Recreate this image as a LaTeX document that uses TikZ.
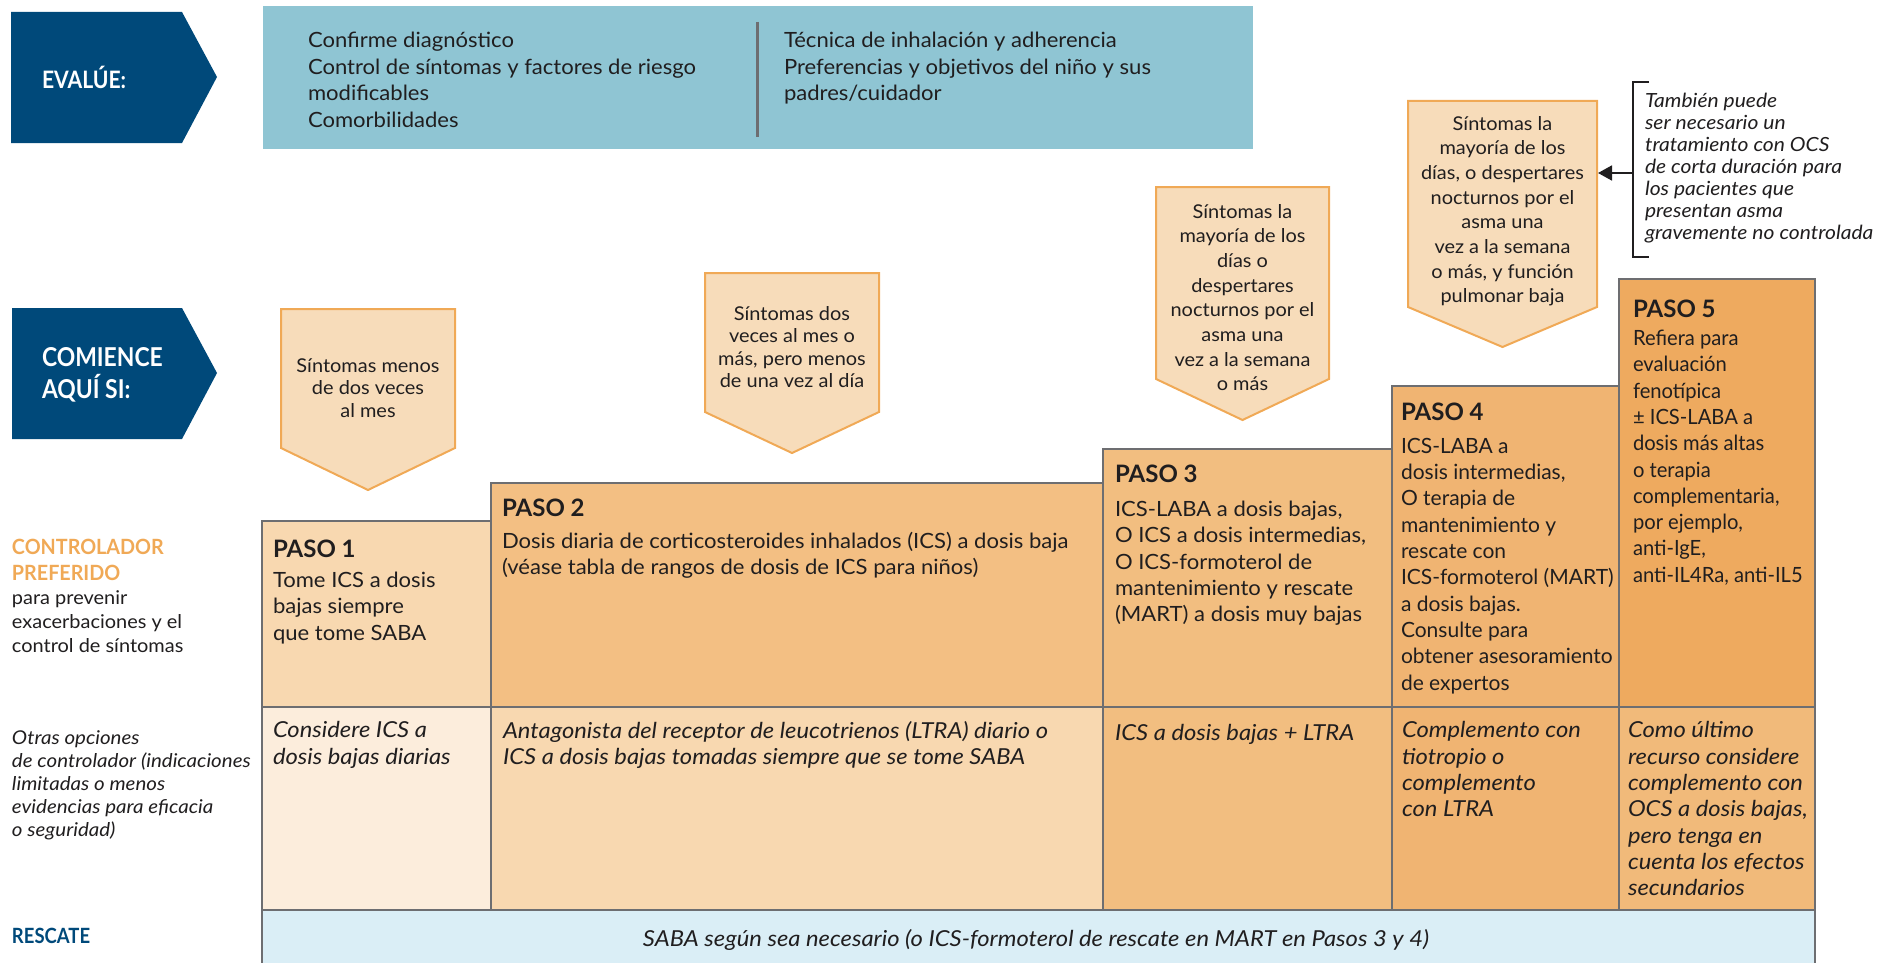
\documentclass[tikz,border=0pt]{standalone}
\usepackage{fontspec}
\setmainfont{Lato}[FakeStretch=1.05]
\newfontfamily\itfam{Lato}[FakeStretch=1.08]
\newfontfamily\plainfam{Lato}
\newfontfamily\narrowfam{Lato}[FakeStretch=0.96]
\newfontfamily\labelfam{Lato}[FakeStretch=0.94]
\newfontfamily\condfam{Lato}[FakeStretch=0.88]
\usetikzlibrary{arrows.meta}

\definecolor{navy}{RGB}{0,73,122}
\definecolor{evalfill}{RGB}{143,197,211}
\definecolor{symfill}{RGB}{247,220,186}
\definecolor{symline}{RGB}{240,169,86}
\definecolor{rule}{RGB}{109,110,113}
\definecolor{ponetop}{RGB}{248,216,176}
\definecolor{ponebot}{RGB}{252,237,220}
\definecolor{ptwotop}{RGB}{243,191,131}
\definecolor{ptwobot}{RGB}{248,216,176}
\definecolor{pthree}{RGB}{242,190,128}
\definecolor{pfour}{RGB}{240,180,114}
\definecolor{pfivetop}{RGB}{238,170,95}
\definecolor{pfivebot}{RGB}{241,186,122}
\definecolor{rescfill}{RGB}{218,238,246}
\definecolor{ink}{RGB}{32,30,31}

\begin{document}
\begin{tikzpicture}[x=1pt,y=-1pt,
  every node/.style={inner sep=0pt, outer sep=0pt, text=ink},
  % multi-line body text, positioned by the first baseline
  body/.style={anchor=north west, align=left, yshift=14.9pt,
    font=\fontsize{21}{26.3}\selectfont, execute at begin node=\strut},
  bodyit/.style={anchor=north west, align=left, yshift=15.4pt,
    font=\itfam\fontsize{22}{26.3}\selectfont\itshape, execute at begin node=\strut},
  evaltxt/.style={anchor=north west, align=left, yshift=15.1pt,
    font=\fontsize{21}{26.7}\selectfont, execute at begin node=\strut},
  head/.style={anchor=base west, font=\plainfam\fontsize{24}{28}\selectfont\bfseries},
  symtxt/.style={anchor=north, align=center, yshift=13.75pt,
    font=\fontsize{19}{22.5}\selectfont, execute at begin node=\strut},
  symtxtw/.style={anchor=north, align=center, yshift=14.9pt,
    font=\fontsize{19}{24.7}\selectfont, execute at begin node=\strut},
  notetxt/.style={anchor=north west, align=left, yshift=15.4pt,
    font=\itfam\fontsize{19.5}{22}\selectfont\itshape, execute at begin node=\strut},
  sidetxt/.style={anchor=north west, align=left, yshift=12.0pt,
    font=\fontsize{19}{24}\selectfont, execute at begin node=\strut},
  sideit/.style={anchor=north west, align=left, yshift=11.3pt,
    font=\itfam\fontsize{19}{23}\selectfont\itshape, execute at begin node=\strut},
  sidehead/.style={anchor=north west, align=left, yshift=14.6pt,
    font=\labelfam\fontsize{21}{26}\selectfont\bfseries, execute at begin node=\strut},
  chevtxt/.style={anchor=north west, align=left, yshift=19.9pt, text=white,
    font=\condfam\fontsize{26}{32}\selectfont\bfseries, execute at begin node=\strut},
  chevshape/.style={fill=navy},
  symbox/.style={fill=symfill, draw=symline, line width=2pt, line join=miter},
  cell/.style={draw=rule, line width=2.8pt},
]
\useasboundingbox (0,0) rectangle (1878,963);

% ---------- assessment row ----------
\fill[chevshape] (11,12) -- (182,12) -- (217,77) -- (182,143) -- (11,143) -- cycle;
\node[anchor=base west, text=white, font=\condfam\fontsize{24}{28}\selectfont\bfseries] (evalue) at (42,89) {EVALÚE:};

\fill[evalfill] (263,6) rectangle (1253,149);
\draw[rule, line width=3pt] (757,22) -- (757,137);
\node[evaltxt] (evalleft) at (308,47) {Confirme diagnóstico\\Control de síntomas y factores de riesgo\\modificables\\Comorbilidades};
\node[evaltxt] (evalright) at (784,47) {Técnica de inhalación y adherencia\\Preferencias y objetivos del niño y sus\\padres/cuidador};

% ---------- start-here row ----------
\fill[chevshape] (12,308) -- (182,308) -- (217,373) -- (182,439) -- (12,439) -- cycle;
\node[chevtxt] (comience) at (42,367) {COMIENCE\\AQUÍ SI:};

% symptom pointers
\filldraw[symbox] (281,309) -- (455,309) -- (455,448) -- (368,490) -- (281,448) -- cycle;
\node[symtxt] (symone) at (368,372) {Síntomas menos\\de dos veces\\al mes};

\filldraw[symbox] (705,273) -- (879,273) -- (879,412) -- (792,453) -- (705,412) -- cycle;
\node[symtxt] (symtwo) at (792,320) {Síntomas dos\\veces al mes o\\más, pero menos\\de una vez al día};

\filldraw[symbox] (1156,187) -- (1329,187) -- (1329,379) -- (1242.5,420) -- (1156,379) -- cycle;
\node[symtxtw] (symthree) at (1242.5,219) {Síntomas la\\mayoría de los\\días o\\despertares\\nocturnos por el\\asma una\\vez a la semana\\o más};

\filldraw[symbox] (1408,101) -- (1597,101) -- (1597,307) -- (1502.5,347) -- (1408,307) -- cycle;
\node[symtxtw] (symfour) at (1502.5,131) {Síntomas la\\mayoría de los\\días, o despertares\\nocturnos por el\\asma una\\vez a la semana\\o más, y función\\pulmonar baja};

% side note with bracket and arrow
\coordinate (symfoureast) at (1598,173);
\coordinate (bracket) at (1633,173);
\draw[ink, line width=1.6pt] (1649,82) -- (1633,82) -- (1633,257) -- (1649,257);
\draw[ink, line width=1.8pt, -{Triangle[length=14pt,width=15pt]}] (bracket) -- (symfoureast);
\node[notetxt] (note) at (1645,109) {También puede\\ser necesario un\\tratamiento con OCS\\de corta duración para\\los pacientes que\\presentan asma\\gravemente no controlada};

% ---------- step table ----------
\fill[ponetop]  (262,521) rectangle (491,707);
\fill[ptwotop]  (491,483) rectangle (1103,707);
\fill[pthree]   (1103,449) rectangle (1392,707);
\fill[pfour]    (1392,386) rectangle (1619,707);
\fill[pfivetop] (1619,279) rectangle (1815,707);
\fill[ponebot]  (262,707) rectangle (491,910);
\fill[ptwobot]  (491,707) rectangle (1103,910);
\fill[pthree]   (1103,707) rectangle (1392,910);
\fill[pfour]    (1392,707) rectangle (1619,910);
\fill[pfivebot] (1619,707) rectangle (1815,910);
\fill[rescfill] (262,910) rectangle (1815,963);

\draw[cell] (262,521) rectangle (491,707);
\draw[cell] (491,483) rectangle (1103,707);
\draw[cell] (1103,449) rectangle (1392,707);
\draw[cell] (1392,386) rectangle (1619,707);
\draw[cell] (1619,279) rectangle (1815,707);
\draw[cell] (262,707) rectangle (491,910);
\draw[cell] (491,707) rectangle (1103,910);
\draw[cell] (1103,707) rectangle (1392,910);
\draw[cell] (1392,707) rectangle (1619,910);
\draw[cell] (1619,707) rectangle (1815,910);
\draw[cell] (262,966) -- (262,910) -- (1815,910) -- (1815,966);

% step headings and treatments
\node[head] (pasoone) at (273,557) {PASO 1};
\node[body] (ctrlone) at (273,587) {Tome ICS a dosis\\bajas siempre\\que tome SABA};
\node[bodyit] (altone) at (273,737) {Considere ICS a\\dosis bajas diarias};

\node[head] (pasotwo) at (502,516) {PASO 2};
\node[body] (ctrltwo) at (502,547) {Dosis diaria de corticosteroides inhalados (ICS) a dosis baja\\(véase tabla de rangos de dosis de ICS para niños)};
\node[bodyit] (alttwo) at (503,737) {Antagonista del receptor de leucotrienos (LTRA) diario o\\ICS a dosis bajas tomadas siempre que se tome SABA};

\node[head] (pasothree) at (1115,482) {PASO 3};
\node[body] (ctrlthree) at (1115,516) {ICS-LABA a dosis bajas,\\O ICS a dosis intermedias,\\O ICS-formoterol de\\mantenimiento y rescate\\(MART) a dosis muy bajas};
\node[bodyit] (altthree) at (1115,737) {ICS a dosis bajas + LTRA};

\node[head] (pasofour) at (1401,420) {PASO 4};
\node[body, font=\plainfam\fontsize{21}{26.3}\selectfont] (ctrlfour) at (1401,453) {ICS-LABA a\\dosis intermedias,\\O terapia de\\mantenimiento y\\rescate con\\ICS-formoterol (MART)\\a dosis bajas.\\Consulte para\\obtener asesoramiento\\de expertos};
\node[bodyit] (altfour) at (1402,737) {Complemento con\\tiotropio o\\complemento\\con LTRA};

\node[head] (pasofive) at (1633,317) {PASO 5};
\node[body, font=\narrowfam\fontsize{21}{26.3}\selectfont] (ctrlfive) at (1633,345) {Refiera para\\evaluación\\fenotípica\\± ICS-LABA a\\dosis más altas\\o terapia\\complementaria,\\por ejemplo,\\anti-IgE,\\anti-IL4Ra, anti-IL5};
\node[bodyit] (altfive) at (1628,737) {Como último\\recurso considere\\complemento con\\OCS a dosis bajas,\\pero tenga en\\cuenta los efectos\\secundarios};

\node[anchor=base, font=\itfam\fontsize{22}{26}\selectfont\itshape] (rescue) at (1036,946) {SABA según sea necesario (o ICS-formoterol de rescate en MART en Pasos 3 y 4)};

% ---------- row labels ----------
\node[sidehead, text=symline] (preferido) at (12,554) {CONTROLADOR\\PREFERIDO};
\node[sidetxt] (preferidonote) at (12,603) {para prevenir\\exacerbaciones y el\\control de síntomas};
\node[sideit] (otras) at (12,742) {Otras opciones\\de controlador (indicaciones\\limitadas o menos\\evidencias para eficacia\\o seguridad)};
\node[anchor=base west, text=navy, font=\condfam\fontsize{21}{26}\selectfont\bfseries] (rescate) at (12,943) {RESCATE};
\end{tikzpicture}
\end{document}
